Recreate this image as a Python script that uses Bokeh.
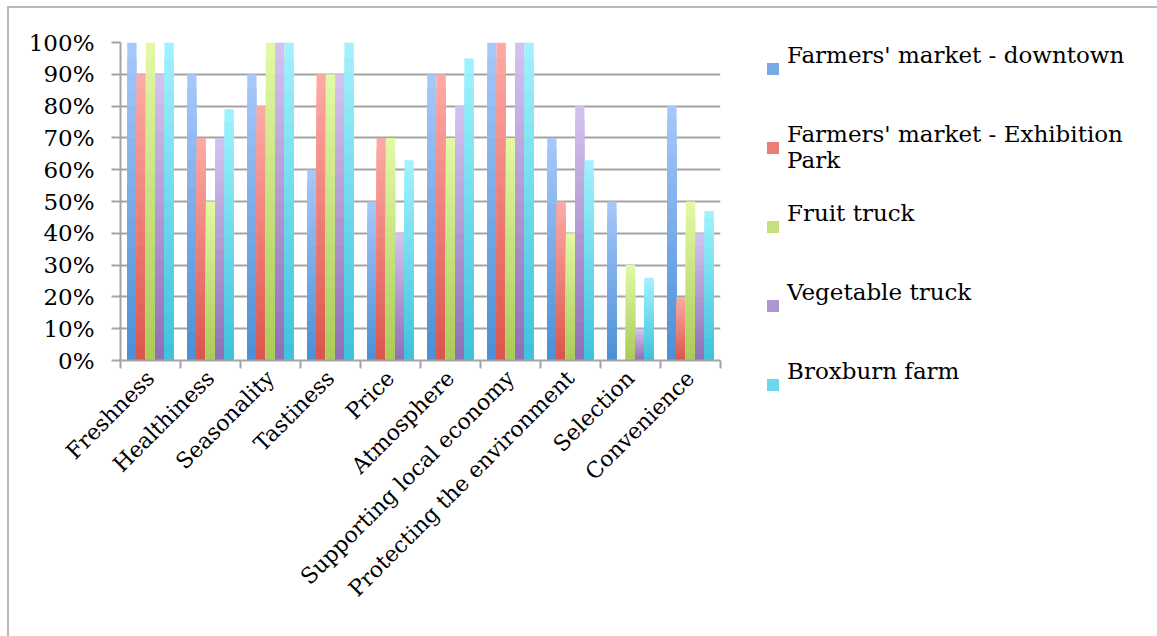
from bokeh.plotting import figure
from bokeh.layouts import row
from bokeh.models import (ColumnDataSource, FixedTicker, NumeralTickFormatter, Legend, LegendItem)
from bokeh.embed import file_html
from bokeh.resources import INLINE

categories = ["Freshness", "Healthiness", "Seasonality", "Tastiness", "Price", "Atmosphere",
              "Supporting local economy", "Protecting the environment", "Selection", "Convenience"]
series_names = ["Farmers' market - downtown", "Farmers' market - Exhibition\nPark", "Fruit truck",
                "Vegetable truck", "Broxburn farm"]
downtown = [1.00, 0.90, 0.90, 0.60, 0.50, 0.90, 1.00, 0.70, 0.50, 0.80]
exhibition = [0.90, 0.70, 0.80, 0.90, 0.70, 0.90, 1.00, 0.50, 0.00, 0.20]
fruit_truck = [1.00, 0.50, 1.00, 0.90, 0.70, 0.70, 0.70, 0.40, 0.30, 0.50]
veg_truck = [0.90, 0.70, 1.00, 0.90, 0.40, 0.80, 1.00, 0.80, 0.10, 0.40]
broxburn = [1.00, 0.79, 1.00, 1.00, 0.63, 0.95, 1.00, 0.63, 0.26, 0.47]
y_ticks = [0.0, 0.1, 0.2, 0.3, 0.4, 0.5, 0.6, 0.7, 0.8, 0.9, 1.0]

series_values = [downtown, exhibition, fruit_truck, veg_truck, broxburn]
# gradient colours (top, bottom)
grad = [((168, 200, 250), (74, 143, 214)),
        ((255, 170, 165), (217, 85, 76)),
        ((226, 249, 166), (170, 203, 88)),
        ((212, 195, 239), (143, 110, 182)),
        ((162, 242, 254), (61, 193, 220))]

N_BANDS = 20
BAR_W = 0.155
offsets = [-2 * BAR_W, -BAR_W, 0.0, BAR_W, 2 * BAR_W]
n_cat = len(categories)

FONT = "DejaVu Serif"
GRID = "#a3a3a3"

p = figure(width=722, height=628, x_range=(0, n_cat), y_range=(0, 1),
           output_backend="svg", toolbar_location=None,
           min_border_left=111, min_border_right=11, min_border_top=34, min_border_bottom=276)
p.frame_align = False
p.outline_line_color = None
p.background_fill_color = "white"
p.border_fill_color = "white"

# separate panel that only carries the legend; its frame fills the whole panel
p_leg = figure(width=426, height=628, x_range=(0, 1), y_range=(0, 1),
               x_axis_location=None, y_axis_location=None,
               output_backend="svg", toolbar_location=None, min_border=0)
p_leg.frame_align = False
p_leg.outline_line_color = None
p_leg.grid.visible = False
p_leg.background_fill_color = "white"
p_leg.border_fill_color = "white"

renderers = []
leg_renderers = []
for s, vals in enumerate(series_values):
    top_c, bot_c = grad[s]
    xs, tops, colors = [], [], []
    # overlapping bars from the base: tallest (lightest) first, shorter (darker) on top
    for i, v in enumerate(vals):
        for k in range(N_BANDS - 1, -1, -1):
            t = (k + 0.5) / N_BANDS
            c = tuple(int(round(bot_c[j] + (top_c[j] - bot_c[j]) * t)) for j in range(3))
            xs.append(i + 0.5 + offsets[s])
            tops.append(v * (k + 1) / N_BANDS)
            colors.append("#%02x%02x%02x" % c)
    src = ColumnDataSource(dict(x=xs, top=tops, color=colors))
    r = p.vbar(x="x", bottom=0, top="top", width=BAR_W, fill_color="color",
               line_color=None, source=src)
    renderers.append(r)
    lr = p_leg.vbar(x="x", bottom=0, top="top", width=BAR_W, fill_color="color",
                    line_color=None, source=src, visible=False)
    leg_renderers.append(lr)

# axes
p.yaxis.ticker = FixedTicker(ticks=y_ticks)
p.yaxis.formatter = NumeralTickFormatter(format="0%")
p.yaxis.major_label_text_font = FONT
p.yaxis.major_label_text_font_size = "23px"
p.yaxis.major_label_text_color = "black"
p.yaxis.axis_line_color = GRID
p.yaxis.axis_line_width = 2
p.yaxis.major_tick_line_color = GRID
p.yaxis.major_tick_line_width = 2
p.yaxis.major_tick_in = 0
p.yaxis.major_tick_out = 9
p.yaxis.minor_tick_line_color = None
p.yaxis.major_label_standoff = 17

centers = [i + 0.5 for i in range(n_cat)]
p.xaxis.ticker = FixedTicker(ticks=centers, minor_ticks=list(range(n_cat + 1)))
p.xaxis.major_label_overrides = {c: name for c, name in zip(centers, categories)}
p.xaxis.major_label_orientation = 0.785398
p.xaxis.major_label_text_font = FONT
p.xaxis.major_label_text_font_size = "22px"
p.xaxis.major_label_text_color = "black"
p.xaxis.major_tick_line_color = None
p.xaxis.major_tick_out = 8
p.xaxis.minor_tick_line_color = GRID
p.xaxis.minor_tick_line_width = 2
p.xaxis.minor_tick_in = 0
p.xaxis.minor_tick_out = 8
p.xaxis.axis_line_color = GRID
p.xaxis.axis_line_width = 2
p.xaxis.major_label_standoff = 6

p.xgrid.grid_line_color = None
p.ygrid.ticker = FixedTicker(ticks=y_ticks)
p.ygrid.grid_line_color = GRID
p.ygrid.grid_line_width = 2

# legend: every entry laid out as two text lines so that first lines are evenly spaced
labels = [n if "\n" in n else n + "\n " for n in series_names]
items = [LegendItem(label=lab, renderers=[r], index=N_BANDS // 2)
         for lab, r in zip(labels, leg_renderers)]
legend = Legend(items=items, location="top_left", orientation="vertical",
                label_text_font=FONT, label_text_font_size="23px", label_text_color="black",
                glyph_width=15, glyph_height=15, label_standoff=7, spacing=27,
                border_line_color=None, background_fill_alpha=0, padding=0, margin=34,
                label_height=26, inactive_fill_alpha=0)
p_leg.add_layout(legend, "center")

layout = row(p, p_leg, margin=(6, 0, 0, 7),
             styles={"border-top": "2px solid #b8b8b8", "border-left": "2px solid #b8b8b8"})

open("out.html", "w").write(file_html(layout, INLINE))
